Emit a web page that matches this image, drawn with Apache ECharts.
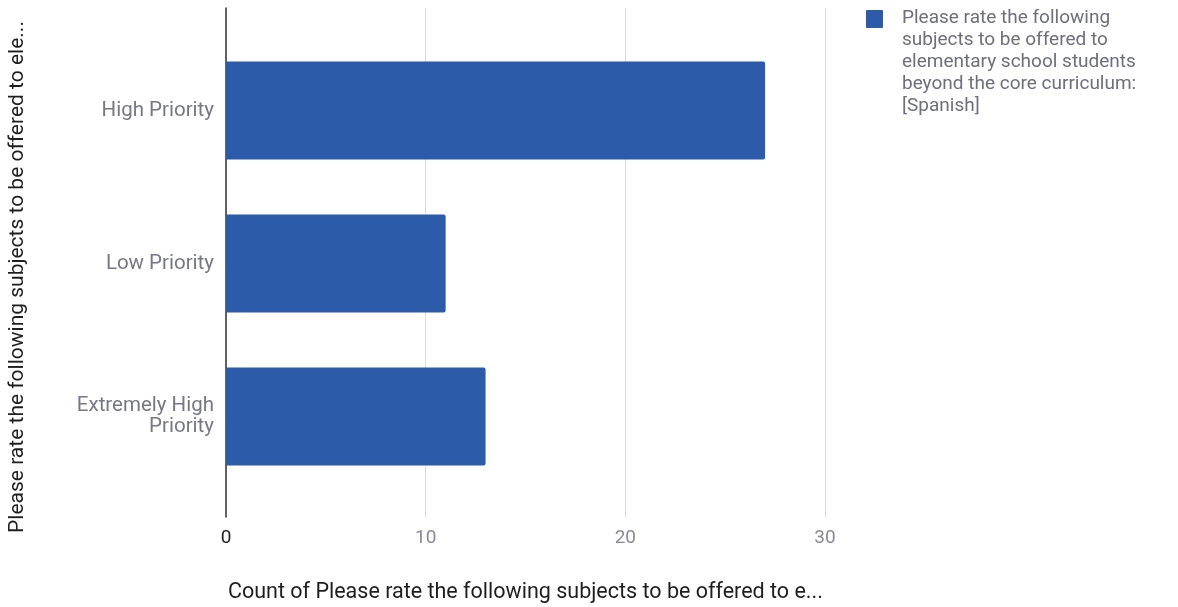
<!DOCTYPE html>
<html><head><meta charset="utf-8">
<script src="https://cdn.jsdelivr.net/npm/echarts@6/dist/echarts.min.js"></script>
<style>html,body{margin:0;padding:0;background:#fff}#c{width:1178px;height:607px}</style>
</head><body><div id="c"></div>
<script>
const categories = ['High Priority', 'Low Priority', 'Extremely High\nPriority'];
const counts = [27, 11, 13];
const seriesName = 'Please rate the following\nsubjects to be offered to\nelementary school students\nbeyond the core curriculum:\n[Spanish]';
const xTitle = 'Count of Please rate the following subjects to be offered to e...';
const yTitle = 'Please rate the following subjects to be offered to ele...';
const xMax = 30, xInterval = 10;

const barColor = '#2c5ba9';
const font = 'Roboto, "Liberation Sans", sans-serif';
const chart = echarts.init(document.getElementById('c'));
chart.setOption({
  animation: false,
  grid: [
    {left: 226, right: 353, top: 8, bottom: 90},
    {left: 226, right: 353, top: 34, bottom: 114}
  ],
  xAxis: [
    {gridIndex: 0, type: 'value', min: 0, max: xMax, interval: xInterval,
     axisLine: {show: false}, axisTick: {show: false},
     splitLine: {lineStyle: {color: '#dcdcdc', width: 1}},
     axisLabel: {margin: 12, fontSize: 19, fontFamily: font, color: '#8a8a98',
       formatter: v => v === 0 ? '{z|0}' : String(v),
       rich: {z: {color: '#222', fontSize: 19, fontFamily: font}}}},
    {gridIndex: 1, type: 'value', min: 0, max: xMax, show: false}
  ],
  yAxis: [
    {gridIndex: 0, type: 'value', min: 0, max: 1,
     axisLine: {show: true, lineStyle: {color: '#333', width: 1.5}},
     axisTick: {show: false}, axisLabel: {show: false}, splitLine: {show: false}},
    {gridIndex: 1, type: 'category', data: categories, inverse: true,
     axisLine: {show: false}, axisTick: {show: false},
     axisLabel: {margin: 12, fontSize: 20.5, fontFamily: font, color: '#777787', lineHeight: 21, align: 'right'}}
  ],
  series: [{
    name: seriesName, type: 'bar', xAxisIndex: 1, yAxisIndex: 1,
    data: counts, barWidth: 98,
    itemStyle: {color: barColor, borderRadius: [0, 2, 2, 0]}
  }],
  graphic: [
    {type: 'text', x: 228, y: 593,
     style: {text: xTitle, fontSize: 21.5, fontFamily: font, fill: '#1e1e1e', verticalAlign: 'middle'}},
    {type: 'text', x: 18, y: 277, rotation: Math.PI / 2,
     style: {text: yTitle, fontSize: 21, fontFamily: font, fill: '#1e1e1e', align: 'center', verticalAlign: 'middle'}},
    {type: 'rect', shape: {x: 866, y: 10, width: 17, height: 18, r: 1}, style: {fill: barColor}},
    {type: 'text', x: 902, y: 7, style: {text: seriesName, fontSize: 19, lineHeight: 22, fontFamily: font, fill: '#6e6e7e'}}
  ]
});
</script></body></html>
